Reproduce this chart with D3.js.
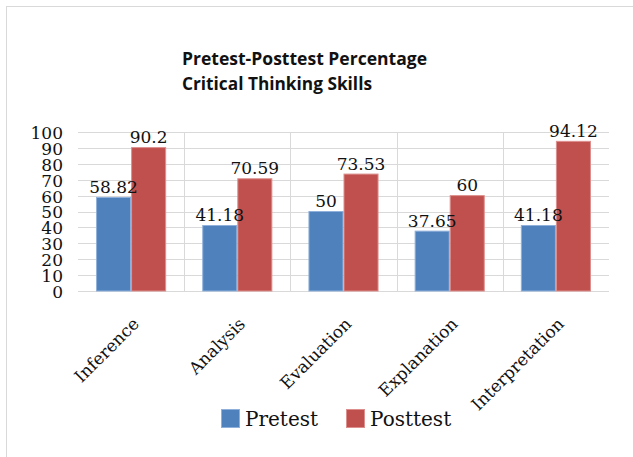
<!DOCTYPE html>
<html>
<head>
<meta charset="utf-8">
<script src="https://cdn.jsdelivr.net/npm/d3@7"></script>
<style>
  body { margin: 0; background: #fff; }
  svg { display: block; }
</style>
</head>
<body>
<div id="graf"></div>
<script>
// I. Data
categories = ['Inference', 'Analysis', 'Evaluation', 'Explanation', 'Interpretation']
series = ['Pretest', 'Posttest']
pretest = [58.82, 41.18, 50, 37.65, 41.18]
posttest = [90.2, 70.59, 73.53, 60, 94.12]
yTicks = [0, 10, 20, 30, 40, 50, 60, 70, 80, 90, 100]
titleLines = ['Pretest-Posttest Percentage', 'Critical Thinking Skills']
colors = { Pretest: '#4f81bd', Posttest: '#c0504d' }
strokes = { Pretest: '#8fb0da', Posttest: '#dc8f8d' }

// II. Setup
ancho_total = 633
alto_total = 457
margins = { top: 132, left: 78, right: 24, bottom: 166 }
ancho = ancho_total - margins.left - margins.right
alto = alto_total - margins.top - margins.bottom

svg = d3.select('#graf').append('svg')
  .attr('width', ancho_total)
  .attr('height', alto_total)

// chart frame (runs off the right and bottom edges)
svg.append('rect')
  .attr('x', 6.5).attr('y', 6.5)
  .attr('width', 700).attr('height', 500)
  .attr('fill', 'none')
  .attr('stroke', '#d9d9d9')

// title
svg.append('g').selectAll('text')
  .data(titleLines)
  .join('text')
  .attr('x', 182)
  .attr('y', (d, i) => 65 + i * 25)
  .attr('textLength', (d, i) => i == 0 ? 245 : 190)
  .attr('lengthAdjust', 'spacingAndGlyphs')
  .style('font-family', '"Open Sans", sans-serif')
  .style('font-weight', 700)
  .style('font-size', '17px')
  .style('fill', '#111')
  .text(d => d)

g = svg.append('g')
  .attr('transform', `translate(${margins.left}, ${margins.top})`)

x0 = d3.scaleBand()
  .domain(categories)
  .range([0, ancho])
  .paddingInner(0.34)
  .paddingOuter(0.17)

x1 = d3.scaleBand()
  .domain(series)
  .range([0, x0.bandwidth()])

y = d3.scaleLinear()
  .domain([0, 100])
  .range([alto, 0])

// III. Gridlines
g.append('g').selectAll('line')
  .data(yTicks)
  .join('line')
  .attr('x1', 0).attr('x2', ancho)
  .attr('y1', d => Math.round(y(d)) + 0.5)
  .attr('y2', d => Math.round(y(d)) + 0.5)
  .attr('stroke', '#d9d9d9')

g.append('g').selectAll('line')
  .data(categories.slice(1))
  .join('line')
  .attr('x1', d => Math.round(x0(d) - x0.step() * 0.17) + 0.5)
  .attr('x2', d => Math.round(x0(d) - x0.step() * 0.17) + 0.5)
  .attr('y1', 0).attr('y2', alto)
  .attr('stroke', '#d9d9d9')

// y axis labels (tightly packed, like the original)
yAxis = g.append('g')
  .call(d3.axisLeft(y).tickValues(yTicks).tickSize(0).tickPadding(15))
yAxis.select('.domain').remove()
yAxis.selectAll('text')
  .attr('dy', '0.38em')
  .style('font-family', '"DejaVu Serif", serif')
  .style('font-size', '17px')
  .style('fill', '#111')

// IV. Bars
rows = categories.map((c, i) => ({ cat: c, Pretest: pretest[i], Posttest: posttest[i] }))

groups = g.append('g').selectAll('g')
  .data(rows)
  .join('g')
  .attr('transform', d => `translate(${x0(d.cat)}, 0)`)

groups.selectAll('rect')
  .data(d => series.map(s => ({ key: s, value: d[s] })))
  .join('rect')
  .attr('x', d => x1(d.key) + 0.5)
  .attr('y', d => y(d.value))
  .attr('width', x1.bandwidth() - 1)
  .attr('height', d => alto - y(d.value))
  .attr('fill', d => colors[d.key])
  .attr('stroke', d => strokes[d.key])
  .attr('stroke-width', 1)

groups.selectAll('text')
  .data(d => series.map(s => ({ key: s, value: d[s] })))
  .join('text')
  .attr('x', d => x1(d.key) + x1.bandwidth() / 2)
  .attr('y', d => y(d.value) - 4.5)
  .attr('text-anchor', 'middle')
  .style('font-family', '"DejaVu Serif", serif')
  .style('font-size', '17px')
  .style('fill', '#111')
  .text(d => d.value)

// x axis labels, rotated
g.append('g').selectAll('text')
  .data(categories)
  .join('text')
  .attr('transform', d => `translate(${x0(d) + x0.bandwidth() / 2 + 9}, ${alto + 34}) rotate(-45)`)
  .attr('text-anchor', 'end')
  .style('font-family', '"DejaVu Serif", serif')
  .style('font-size', '17px')
  .style('fill', '#111')
  .text(d => d)

// V. Legend
legend = svg.append('g').selectAll('g')
  .data(series)
  .join('g')
  .attr('transform', (d, i) => `translate(${[221, 346][i]}, 409)`)

legend.append('rect')
  .attr('x', 0.5).attr('y', 0.5)
  .attr('width', 18).attr('height', 18)
  .attr('fill', d => colors[d])
  .attr('stroke', d => strokes[d])

legend.append('text')
  .attr('x', 24)
  .attr('y', 17)
  .style('font-family', '"DejaVu Serif", serif')
  .style('font-size', '20px')
  .style('fill', '#111')
  .text(d => d)
</script>
</body>
</html>
